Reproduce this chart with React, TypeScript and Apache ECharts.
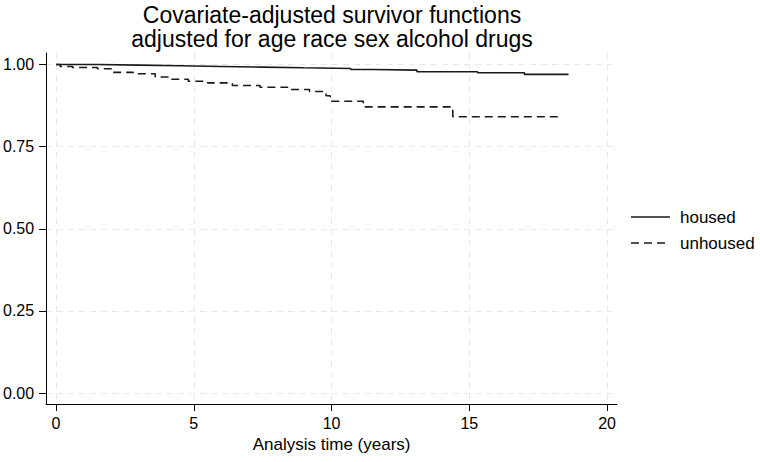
import React, { useEffect, useRef } from "react";
import * as echarts from "echarts";

const titleLines = ["Covariate-adjusted survivor functions", "adjusted for age race sex alcohol drugs"];
const xTicks = [0, 5, 10, 15, 20];
const yTicks = [0, 0.25, 0.5, 0.75, 1];
const xAxisTitle = "Analysis time (years)";
const seriesNames = ["housed", "unhoused"];

const housedTimes = [0, 1.5, 3, 4.5, 6, 7.5, 9, 10.7, 11.5, 13.1, 15.3, 17.0, 18.6];
const housedSurv = [1.0, 0.998, 0.996, 0.994, 0.992, 0.99, 0.988, 0.985, 0.983, 0.978, 0.975, 0.97, 0.97];

const unhousedTimes = [0, 0.15, 0.6, 1.5, 2.0, 2.8, 3.6, 4.1, 4.8, 5.5, 6.4, 7.4, 8.4, 9.2, 9.8, 9.95, 11.15, 14.4, 18.35];
const unhousedSurv = [1.0, 0.994, 0.991, 0.987, 0.976, 0.972, 0.962, 0.955, 0.949, 0.944, 0.936, 0.931, 0.924, 0.918, 0.905, 0.888, 0.871, 0.841, 0.841];

const FONT = "'Liberation Sans', Arial, Helvetica, sans-serif";
const LINE_COLOR = "#1a1a1a";
const DASH = [8, 5];

export default function App() {
  const ref = useRef<HTMLDivElement>(null);
  useEffect(() => {
    document.body.style.margin = "0";
    const chart = echarts.init(ref.current!, null, { renderer: "svg" });
    const pairs = (t: number[], v: number[]) => t.map((x, i) => [x, v[i]]);
    const gridLine = { show: true, lineStyle: { color: "#e8e8e8", type: [6, 5] as any, width: 1 } };
    const legendY = [217, 243];
    const graphics: any[] = [];
    seriesNames.forEach((name, i) => {
      graphics.push({
        type: "line",
        shape: { x1: 631, y1: legendY[i], x2: 670, y2: legendY[i] },
        style: { stroke: LINE_COLOR, lineWidth: 1.6, lineDash: i === 0 ? null : DASH },
      });
      graphics.push({
        type: "text",
        x: 680,
        y: legendY[i],
        style: {
          text: name,
          font: `17px ${FONT}`,
          fill: "#000",
          textAlign: "left",
          textVerticalAlign: "middle",
        },
      });
    });
    const titleY = [15, 39];
    titleLines.forEach((line, i) => {
      graphics.push({
        type: "text",
        x: 332,
        y: titleY[i],
        style: {
          text: line,
          font: `23px ${FONT}`,
          fill: "#000",
          textAlign: "center",
          textVerticalAlign: "middle",
        },
      });
    });
    chart.setOption({
      animation: false,
      backgroundColor: "#ffffff",
      grid: { left: 46, right: 143, top: 53, bottom: 58 },
      graphic: graphics,
      xAxis: {
        type: "value",
        min: -0.36,
        max: 20.36,
        name: xAxisTitle,
        nameLocation: "middle",
        nameGap: 31,
        nameTextStyle: { fontFamily: FONT, fontSize: 17, color: "#000" },
        axisLine: { show: true, onZero: false, lineStyle: { color: "#000", width: 1 } },
        axisTick: { show: true, length: 7, customValues: xTicks, lineStyle: { color: "#000" } },
        axisLabel: { customValues: xTicks, fontFamily: FONT, fontSize: 16, color: "#000", margin: 11 },
        splitLine: gridLine,
      },
      yAxis: {
        type: "value",
        min: -0.033,
        max: 1.035,
        axisLine: { show: true, onZero: false, lineStyle: { color: "#000", width: 1 } },
        axisTick: { show: true, length: 7, customValues: yTicks, lineStyle: { color: "#000" } },
        axisLabel: {
          customValues: yTicks,
          fontFamily: FONT,
          fontSize: 16,
          color: "#000",
          margin: 12,
          formatter: (v: number) => v.toFixed(2),
        },
        splitLine: gridLine,
      },
      series: [
        {
          name: seriesNames[0],
          type: "line",
          step: "end",
          symbol: "none",
          data: pairs(housedTimes, housedSurv),
          lineStyle: { color: LINE_COLOR, width: 1.6, type: "solid" },
          itemStyle: { color: LINE_COLOR },
        },
        {
          name: seriesNames[1],
          type: "line",
          step: "end",
          symbol: "none",
          data: pairs(unhousedTimes, unhousedSurv),
          lineStyle: { color: LINE_COLOR, width: 1.6, type: DASH },
          itemStyle: { color: LINE_COLOR },
        },
      ],
    });
    return () => chart.dispose();
  }, []);
  return <div ref={ref} style={{ width: 760, height: 462 }} />;
}
